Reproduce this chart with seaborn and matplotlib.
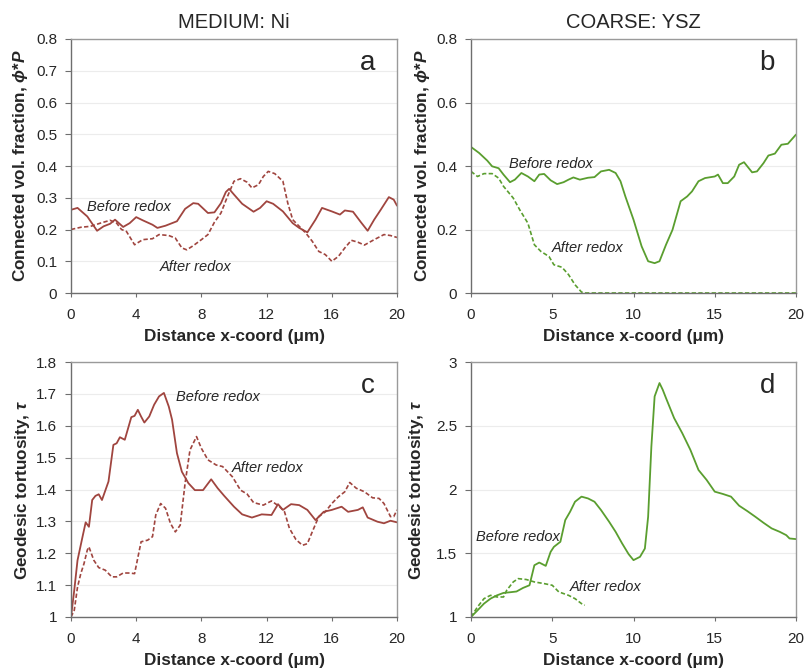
import numpy as np
import pandas as pd
import matplotlib
matplotlib.use("Agg")
import matplotlib.pyplot as plt
import seaborn as sns
from matplotlib.ticker import FuncFormatter

# ---- data -------------------------------------------------------------
# (a) MEDIUM Ni: connected volume fraction
a_x_before = [0, 0.4, 1, 1.2, 1.6, 2, 2.4, 2.7, 3.2, 3.6, 4, 4.4, 5, 5.3, 5.8, 6.2, 6.5, 7, 7.5,
              7.8, 8.4, 8.8, 9.2, 9.5, 9.7, 10, 10.5, 11.2, 11.6, 12, 12.4, 13, 13.6, 14, 14.5,
              15, 15.4, 16, 16.5, 16.8, 17.3, 17.8, 18.2, 18.6, 19, 19.5, 19.8, 20]
a_before = [0.262, 0.268, 0.241, 0.226, 0.196, 0.21, 0.218, 0.231, 0.208, 0.22, 0.239, 0.229,
            0.215, 0.205, 0.212, 0.22, 0.226, 0.265, 0.283, 0.281, 0.252, 0.254, 0.283, 0.318,
            0.328, 0.31, 0.281, 0.256, 0.268, 0.289, 0.281, 0.257, 0.22, 0.205, 0.191, 0.231,
            0.268, 0.257, 0.247, 0.26, 0.256, 0.222, 0.196, 0.231, 0.262, 0.302, 0.294, 0.275]
a_x_after = [0, 0.6, 1.2, 1.8, 2.4, 2.8, 3.1, 3.4, 3.9, 4.4, 5, 5.4, 6, 6.4, 6.8, 7.1, 7.5, 8,
             8.4, 8.8, 9.2, 9.6, 10, 10.4, 10.8, 11.1, 11.5, 11.8, 12.1, 12.5, 13, 13.3, 13.6,
             14, 14.4, 14.8, 15.2, 15.6, 16, 16.4, 16.8, 17.2, 17.6, 18, 18.6, 19.2, 19.6, 20]
a_after = [0.2, 0.207, 0.21, 0.22, 0.229, 0.22, 0.2, 0.194, 0.152, 0.168, 0.171, 0.184, 0.181,
           0.173, 0.142, 0.136, 0.149, 0.168, 0.184, 0.223, 0.252, 0.304, 0.352, 0.36, 0.349,
           0.331, 0.341, 0.367, 0.383, 0.376, 0.352, 0.283, 0.231, 0.21, 0.189, 0.163, 0.131,
           0.121, 0.1, 0.115, 0.142, 0.166, 0.16, 0.151, 0.168, 0.184, 0.181, 0.175]

# (b) COARSE YSZ: connected volume fraction
b_x_before = [0, 0.5, 1, 1.3, 1.7, 2, 2.4, 2.7, 3.1, 3.5, 3.9, 4.2, 4.5, 4.9, 5.3, 5.7, 6, 6.3,
              6.7, 7.2, 7.6, 8, 8.5, 8.9, 9.2, 9.5, 10, 10.5, 10.9, 11.3, 11.6, 12, 12.4, 12.9,
              13.3, 13.6, 14, 14.4, 15, 15.2, 15.5, 15.8, 16.2, 16.5, 16.8, 17.3, 17.6, 18, 18.3,
              18.7, 19.1, 19.5, 20]
b_before = [0.46, 0.441, 0.417, 0.399, 0.393, 0.373, 0.349, 0.357, 0.378, 0.367, 0.352, 0.373,
            0.375, 0.355, 0.343, 0.349, 0.357, 0.364, 0.357, 0.363, 0.365, 0.383, 0.388, 0.378,
            0.352, 0.304, 0.231, 0.147, 0.1, 0.094, 0.1, 0.152, 0.199, 0.289, 0.304, 0.32,
            0.352, 0.362, 0.367, 0.373, 0.346, 0.346, 0.367, 0.404, 0.412, 0.38, 0.383, 0.409,
            0.433, 0.439, 0.467, 0.47, 0.499]
b_x_after = [0, 0.4, 0.8, 1.3, 1.7, 2, 2.6, 3, 3.5, 3.9, 4.3, 4.8, 5.1, 5.6, 6, 6.4, 6.8, 7,
             10, 15, 20]
b_after = [0.383, 0.367, 0.376, 0.376, 0.362, 0.336, 0.299, 0.262, 0.22, 0.152, 0.131, 0.115,
           0.089, 0.081, 0.058, 0.026, 0.003, 0.0, 0.0, 0.0, 0.0]

# (c) MEDIUM Ni: geodesic tortuosity
c_x_before = [0, 0.2, 0.4, 0.7, 0.9, 1.1, 1.3, 1.5, 1.7, 1.9, 2.3, 2.6, 2.8, 3, 3.3, 3.7, 3.9,
              4.1, 4.3, 4.5, 4.8, 5.1, 5.4, 5.7, 6, 6.2, 6.5, 6.8, 7.2, 7.6, 8.1, 8.6, 9, 9.4,
              10, 10.5, 11.1, 11.7, 12.3, 12.7, 13, 13.5, 14, 14.5, 15, 15.5, 16, 16.6, 17,
              17.6, 17.9, 18.2, 18.8, 19.2, 19.6, 20]
c_before = [1.0, 1.084, 1.178, 1.25, 1.297, 1.283, 1.367, 1.38, 1.385, 1.367, 1.425, 1.54,
            1.545, 1.564, 1.556, 1.627, 1.631, 1.65, 1.629, 1.61, 1.629, 1.666, 1.692, 1.703,
            1.66, 1.619, 1.514, 1.456, 1.42, 1.398, 1.398, 1.432, 1.404, 1.38, 1.346, 1.322,
            1.312, 1.322, 1.32, 1.354, 1.336, 1.354, 1.351, 1.336, 1.304, 1.33, 1.336, 1.346,
            1.33, 1.336, 1.344, 1.312, 1.299, 1.294, 1.302, 1.297]
c_x_after = [0, 0.2, 0.4, 0.6, 0.8, 1, 1.1, 1.4, 1.7, 2.1, 2.5, 2.8, 3.2, 3.6, 3.9, 4.3, 4.7, 5,
             5.2, 5.5, 5.8, 6.1, 6.4, 6.7, 7, 7.3, 7.7, 8, 8.4, 8.9, 9.3, 9.9, 10.4, 10.8, 11.2,
             11.8, 12.3, 12.8, 13.1, 13.4, 13.8, 14.2, 14.5, 14.8, 15.2, 15.6, 16, 16.4, 16.8,
             17.1, 17.5, 18, 18.5, 18.9, 19.2, 19.6, 19.8, 20]
c_after = [1.0, 1.021, 1.094, 1.136, 1.168, 1.21, 1.22, 1.178, 1.155, 1.147, 1.126, 1.126,
           1.138, 1.138, 1.136, 1.236, 1.241, 1.252, 1.32, 1.356, 1.341, 1.294, 1.267, 1.288,
           1.42, 1.524, 1.566, 1.529, 1.493, 1.477, 1.472, 1.44, 1.398, 1.386, 1.359, 1.351,
           1.364, 1.346, 1.33, 1.278, 1.243, 1.225, 1.23, 1.267, 1.315, 1.33, 1.356, 1.377,
           1.393, 1.422, 1.404, 1.393, 1.374, 1.372, 1.356, 1.315, 1.315, 1.336]

# (d) COARSE YSZ: geodesic tortuosity
d_x_before = [0, 0.4, 0.8, 1.2, 1.6, 2, 2.4, 2.8, 3.2, 3.6, 3.9, 4.2, 4.6, 4.9, 5.1, 5.5, 5.8,
              6.1, 6.4, 6.8, 7.2, 7.6, 8, 8.5, 8.9, 9.3, 9.7, 10, 10.4, 10.7, 10.9, 11.1, 11.3,
              11.6, 11.8, 12, 12.5, 13, 13.5, 14, 14.5, 15, 15.5, 16, 16.5, 17, 17.5, 18, 18.5,
              19, 19.4, 19.6, 20]
d_before = [1.0, 1.052, 1.105, 1.144, 1.17, 1.189, 1.194, 1.2, 1.228, 1.249, 1.406, 1.427,
            1.401, 1.511, 1.55, 1.59, 1.76, 1.826, 1.904, 1.944, 1.93, 1.904, 1.839, 1.747,
            1.668, 1.577, 1.493, 1.446, 1.472, 1.537, 1.786, 2.337, 2.73, 2.835, 2.782, 2.717,
            2.56, 2.442, 2.311, 2.153, 2.075, 1.983, 1.965, 1.944, 1.873, 1.831, 1.786, 1.739,
            1.695, 1.668, 1.642, 1.616, 1.611]
d_x_after = [0, 0.4, 0.8, 1.2, 1.6, 2, 2.2, 2.6, 2.9, 3.4, 3.9, 4.5, 5, 5.4, 6, 6.4, 6.8, 7]
d_after = [1.0, 1.079, 1.144, 1.17, 1.157, 1.157, 1.21, 1.275, 1.301, 1.294, 1.275, 1.262,
           1.249, 1.197, 1.17, 1.144, 1.105, 1.092]

titles = ["MEDIUM: Ni", "COARSE: YSZ"]
panel_letters = ["a", "b", "c", "d"]
before_label = "Before redox"
after_label = "After redox"
xlabel = "Distance x-coord (\u03bcm)"
ylabel_top = "Connected vol. fraction, $\u03d5$*$P$"
ylabel_bottom = "Geodesic tortuosity, $\u03c4$"

# ---- style ------------------------------------------------------------
sns.set_style("white")
plt.rcParams["font.family"] = ["Liberation Sans", "DejaVu Sans"]
plt.rcParams["mathtext.fontset"] = "custom"
plt.rcParams["mathtext.it"] = "Liberation Sans:italic:bold"
plt.rcParams["mathtext.rm"] = "Liberation Sans:bold"
plt.rcParams["mathtext.bf"] = "Liberation Sans:bold"

NI = "#A0453F"
YSZ = "#5A9E2F"
DASH = (0, (2.6, 1.4))

fig = plt.figure(figsize=(8.06, 6.69), dpi=100)
W, H = 806, 669


def add_ax(l, t, r, b):
    return fig.add_axes([l / W, 1 - b / H, (r - l) / W, (b - t) / H])


ax_a = add_ax(71, 39, 397, 293)
ax_b = add_ax(471, 39, 796, 293)
ax_c = add_ax(71, 362, 397, 617)
ax_d = add_ax(471, 362, 796, 617)


def fmt(v, pos):
    s = f"{v:.1f}"
    if s.endswith(".0"):
        s = s[:-2]
    return s


def draw(ax, xb, yb, xa, ya, color):
    sns.lineplot(x=xb, y=yb, ax=ax, color=color, lw=1.3)
    sns.lineplot(x=xa, y=ya, ax=ax, color=color, lw=1.2, linestyle=DASH)


def style(ax, ylim, ystep, xticks, ylabel, ylab_x, letter):
    ax.set_xlim(0, 20)
    ax.set_ylim(*ylim)
    ax.set_xticks(xticks)
    ax.set_yticks(np.arange(ylim[0], ylim[1] + ystep / 2, ystep))
    ax.yaxis.set_major_formatter(FuncFormatter(fmt))
    ax.grid(axis="y", color="#ececec", lw=0.8)
    ax.set_axisbelow(True)
    for side in ["left", "bottom"]:
        ax.spines[side].set_color("#6e6e6e")
        ax.spines[side].set_linewidth(1.0)
    for side in ["top", "right"]:
        ax.spines[side].set_color("#9a9a9a")
        ax.spines[side].set_linewidth(1.0)
    ax.tick_params(axis="y", direction="out", length=4, width=0.8, color="#6e6e6e",
                   labelsize=11, pad=6, left=True)
    ax.tick_params(axis="x", direction="out", length=3, width=0.8, color="#6e6e6e",
                   labelsize=11, pad=8, bottom=True)
    ax.set_xlabel(xlabel, fontsize=12.3, fontweight="bold")
    ax.set_ylabel(ylabel, fontsize=12.3, fontweight="bold")
    ax.xaxis.set_label_coords(0.5, -0.17)
    ax.xaxis.label.set_va("center")
    ax.yaxis.set_label_coords(ylab_x, 0.5)
    ax.yaxis.label.set_va("center")
    ax.text(0.911, 0.905, letter, transform=ax.transAxes, fontsize=20,
            ha="center", va="center")


draw(ax_a, a_x_before, a_before, a_x_after, a_after, NI)
draw(ax_b, b_x_before, b_before, b_x_after, b_after, YSZ)
draw(ax_c, c_x_before, c_before, c_x_after, c_after, NI)
draw(ax_d, d_x_before, d_before, d_x_after, d_after, YSZ)

style(ax_a, (0, 0.8), 0.1, [0, 4, 8, 12, 16, 20], ylabel_top, -0.156, panel_letters[0])
style(ax_b, (0, 0.8), 0.2, [0, 5, 10, 15, 20], ylabel_top, -0.148, panel_letters[1])
style(ax_c, (1, 1.8), 0.1, [0, 4, 8, 12, 16, 20], ylabel_bottom, -0.15, panel_letters[2])
style(ax_d, (1, 3), 0.5, [0, 5, 10, 15, 20], ylabel_bottom, -0.169, panel_letters[3])

# series labels placed beside the curves
lab = dict(fontsize=10.5, fontstyle="italic", ha="left", va="center")
ax_a.text(0.98, 0.271, before_label, **lab)
ax_a.text(5.46, 0.082, after_label, **lab)
ax_b.text(2.34, 0.406, before_label, **lab)
ax_b.text(4.98, 0.142, after_label, **lab)
ax_c.text(6.44, 1.69, before_label, **lab)
ax_c.text(9.88, 1.467, after_label, **lab)
ax_d.text(0.31, 1.627, before_label, **lab)
ax_d.text(6.09, 1.235, after_label, **lab)

# column headings
fig.text((71 + 397) / 2 / W, 1 - 22 / H, titles[0], fontsize=14.5, ha="center", va="center")
fig.text((471 + 796) / 2 / W, 1 - 22 / H, titles[1], fontsize=14.5, ha="center", va="center")

fig.savefig("out.png", dpi=100)
